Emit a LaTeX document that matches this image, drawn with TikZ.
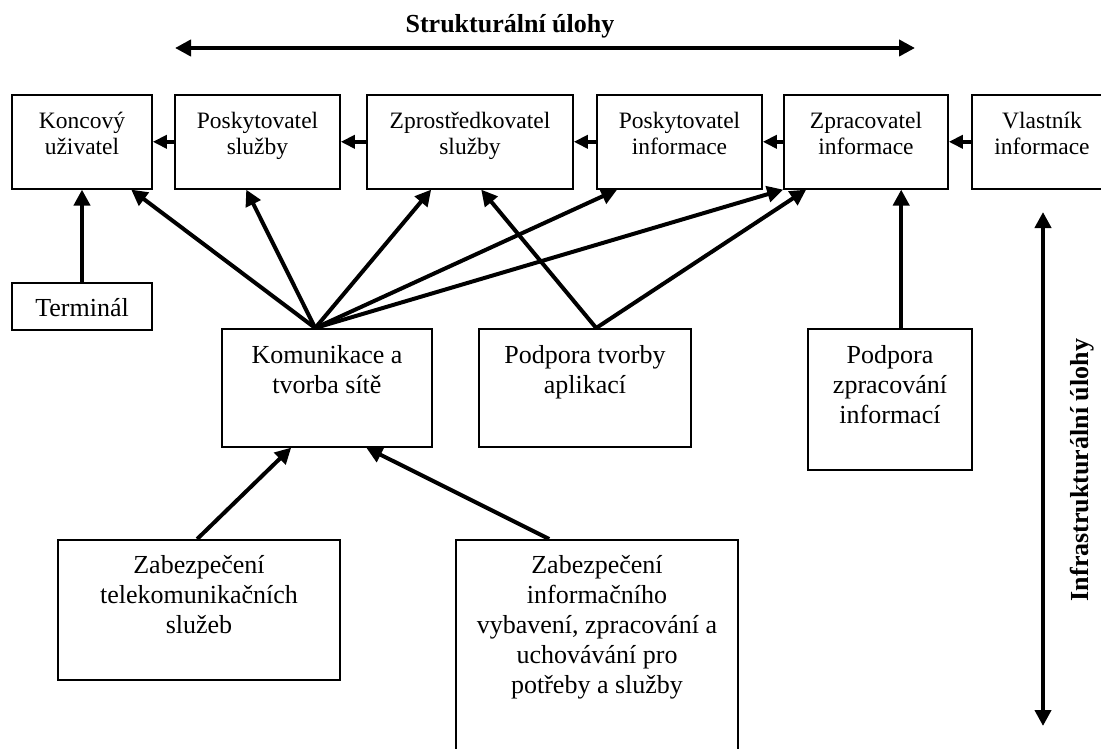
\documentclass[tikz,border=0pt]{standalone}
\usepackage{fontspec}
\setmainfont{Liberation Serif}
\usetikzlibrary{arrows.meta,calc}
\begin{document}
\begin{tikzpicture}[x=1pt,y=-1pt,
  box/.style={draw, line width=1.6pt, inner sep=0pt, align=flush center, anchor=north},
  toprow/.style={box, font=\fontsize{23.5}{25.5}\selectfont, text height=34pt, text depth=60pt},
  lowbox/.style={box, font=\fontsize{26}{30}\selectfont},
  conn/.style={line width=4pt, -{Triangle[length=16pt,width=16pt]}},
  link/.style={line width=4pt, -{Triangle[length=14pt,width=13pt]}},
  span/.style={line width=4pt, {Triangle[length=16pt,width=16pt]}-{Triangle[length=16pt,width=16pt]}},
  heading/.style={font=\bfseries\fontsize{26}{30}\selectfont, inner sep=0pt}
]
\useasboundingbox (0,0) rectangle (1101,749);
\clip (0,0) rectangle (1101,749);

% structural chain
\node[toprow, text width=140pt] (kon) at (82,94)    {Koncový\\uživatel};
\node[toprow, text width=165pt] (pss) at (257.5,94) {Poskytovatel\\služby};
\node[toprow, text width=206pt] (zps) at (470,94)   {Zprostředkovatel\\služby};
\node[toprow, text width=165pt] (psi) at (679.5,94) {Poskytovatel\\informace};
\node[toprow, text width=164pt] (zpi) at (866,94)   {Zpracovatel\\informace};
\node[toprow, text width=140pt] (vli) at (1042,94)  {Vlastník\\informace};

% infrastructure
\node[lowbox, text width=140pt, text height=34pt, text depth=13pt] (ter) at (82,282) {Terminál};
\node[lowbox, text width=210pt, text height=35pt, text depth=83pt] (kom) at (327,328) {Komunikace a\\tvorba sítě};
\node[lowbox, text width=212pt, text height=35pt, text depth=83pt] (pta) at (585,328) {Podpora tvorby\\aplikací};
\node[lowbox, text width=164pt, text height=35pt, text depth=106pt] (pzi) at (890,328) {Podpora\\zpracování\\informací};
\node[lowbox, text width=282pt, text height=34pt, text depth=106pt] (zt) at (199,539) {Zabezpečení\\telekomunikačních\\služeb};
\node[lowbox, text width=282pt, text height=34pt, text depth=206pt] (zi) at (597,539) {Zabezpečení\\informačního\\vybavení, zpracování a\\uchovávání pro\\potřeby a služby};

% chain arrows
\draw[link] (pss.west) -- (kon.east);
\draw[link] (zps.west) -- (pss.east);
\draw[link] (psi.west) -- (zps.east);
\draw[link] (zpi.west) -- (psi.east);
\draw[link] (vli.west) -- (zpi.east);

% fan-out points
\coordinate (komtop) at ($(kom.north west)+(94,0)$);
\coordinate (ptatop) at ($(pta.north west)+(118,0)$);

\draw[conn] (komtop) -- ($(kon.south west)+(120,0)$);
\draw[conn] (komtop) -- ($(pss.south west)+(72,0)$);
\draw[conn] (komtop) -- ($(zps.south west)+(65,0)$);
\draw[conn] (komtop) -- ($(psi.south west)+(21,0)$);
\draw[conn] (komtop) -- (zpi.south west);
\draw[conn] (ptatop) -- ($(zps.south west)+(115,0)$);
\draw[conn] (ptatop) -- ($(zpi.south west)+(23,0)$);

\draw[conn] (ter.north) -- (kon.south);
\draw[conn] ($(pzi.north west)+(94,0)$) -- ($(zpi.south west)+(118,0)$);
\draw[conn] ($(zt.north west)+(140,0)$) -- ($(kom.south west)+(70,0)$);
\draw[conn] ($(zi.north west)+(94,0)$) -- ($(kom.south west)+(145,0)$);

% axis labels
\node[heading, anchor=base] (struct) at (510,33) {Strukturální úlohy};
\coordinate (sl) at (175,48);
\coordinate (sr) at (915,48);
\draw[span] (sl) -- (sr);

\node[heading, rotate=90] (infra) at (1082,470) {Infrastrukturální úlohy};
\coordinate (it) at (1043,212);
\coordinate (ib) at (1043,726);
\draw[span] (it) -- (ib);
\end{tikzpicture}
\end{document}
